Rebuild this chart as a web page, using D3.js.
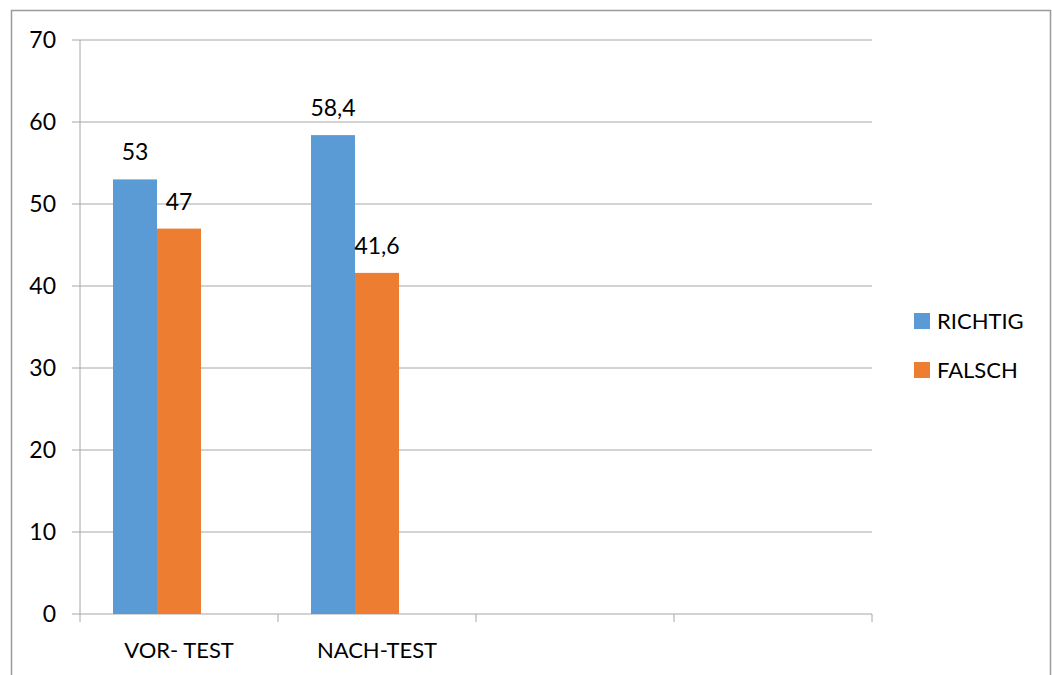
<!DOCTYPE html>
<html>
<head>
<meta charset="utf-8">
<script src="https://cdn.jsdelivr.net/npm/d3@7"></script>
<style>
  body { margin: 0; background: #fff; }
  svg text { font-family: Lato, "Open Sans", sans-serif; fill: #000; }
</style>
</head>
<body>
<svg id="chart"></svg>
<script>
// categories on the x axis (Excel kept two empty slots)
const categories = ["VOR- TEST", "NACH-TEST", "", " "];
const seriesNames = ["RICHTIG", "FALSCH"];
const richtig = [53, 58.4, null, null];
const falsch = [47, 41.6, null, null];
const labelText = { "53": "53", "47": "47", "58.4": "58,4", "41.6": "41,6" };
const yTicks = [0, 10, 20, 30, 40, 50, 60, 70];
const colors = ["#5B9BD5", "#ED7D31"];

const W = 1052, H = 675;
const margin = { top: 40, right: 180, bottom: 61, left: 80 };
const width = 872 - margin.left;
const height = 614 - margin.top;

const svg = d3.select("#chart").attr("width", W).attr("height", H);

// outer chart border (bottom edge is cut off in the picture)
svg.append("path")
   .attr("d", "M11.5,680 V10.5 H1050.5 V680")
   .attr("fill", "none")
   .attr("stroke", "#9a9a9a")
   .attr("stroke-width", 1.5);

const g = svg.append("g").attr("transform", `translate(${margin.left},${margin.top})`);

const x0 = d3.scaleBand().domain(categories).range([0, width]).padding(0);
// three slots per group: the third series is empty
const x1 = d3.scaleBand().domain([0, 1, 2]).range([0, x0.bandwidth()])
             .paddingInner(0).paddingOuter(0.75);
const y = d3.scaleLinear().domain([0, 70]).range([height, 0]);

// gridlines
g.selectAll(".grid").data(yTicks).enter().append("line")
 .attr("x1", -8).attr("x2", width)
 .attr("y1", d => y(d)).attr("y2", d => y(d))
 .attr("stroke", "#a6a6a6").attr("stroke-width", 1);

// y axis line
g.append("line").attr("x1", 0).attr("x2", 0).attr("y1", 0).attr("y2", height)
 .attr("stroke", "#a6a6a6");

// y tick labels
g.selectAll(".ylab").data(yTicks).enter().append("text")
 .attr("x", -24).attr("y", d => y(d))
 .attr("dy", "0.35em").attr("text-anchor", "end")
 .style("font-size", "23px")
 .text(d => d);

// x axis ticks
const xTickPos = categories.map(c => x0(c)).concat([width]);
g.selectAll(".xtick").data(xTickPos).enter().append("line")
 .attr("x1", d => d).attr("x2", d => d)
 .attr("y1", height).attr("y2", height + 8)
 .attr("stroke", "#a6a6a6");

g.selectAll(".xlab").data(categories).enter().append("text")
 .attr("x", d => x0(d) + x0.bandwidth() / 2)
 .attr("y", height + 36)
 .attr("dy", "0.35em").attr("text-anchor", "middle")
 .style("font-size", "22px")
 .text(d => d);

// bars
const series = [richtig, falsch];
series.forEach((vals, si) => {
  const pts = categories.map((c, i) => ({ c, v: vals[i] })).filter(d => d.v != null);
  g.selectAll(`.bar-${si}`).data(pts).enter().append("rect")
   .attr("x", d => x0(d.c) + x1(si))
   .attr("y", d => y(d.v))
   .attr("width", x1.bandwidth())
   .attr("height", d => height - y(d.v))
   .attr("fill", colors[si]);

  g.selectAll(`.val-${si}`).data(pts).enter().append("text")
   .attr("x", d => x0(d.c) + x1(si) + x1.bandwidth() / 2)
   .attr("y", d => y(d.v) - 27)
   .attr("dy", "0.35em").attr("text-anchor", "middle")
   .style("font-size", "23px")
   .text(d => labelText[String(d.v)]);
});

// legend
const legend = svg.append("g");
seriesNames.forEach((name, i) => {
  const ly = 321 + i * 49;
  legend.append("rect").attr("x", 914).attr("y", ly - 8).attr("width", 16).attr("height", 16)
        .attr("fill", colors[i]);
  legend.append("text").attr("x", 937).attr("y", ly).attr("dy", "0.35em")
        .style("font-size", "22px").text(name);
});
</script>
</body>
</html>
